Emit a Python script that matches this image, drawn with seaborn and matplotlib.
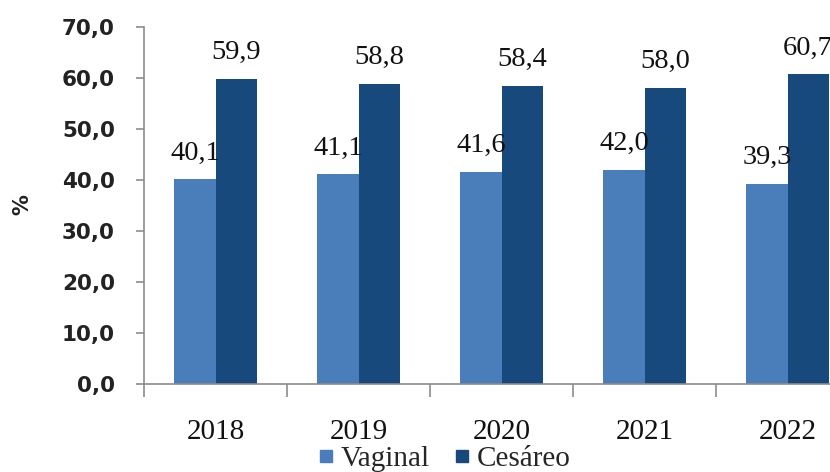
import matplotlib
matplotlib.use("Agg")
import matplotlib.pyplot as plt
from matplotlib.lines import Line2D
from matplotlib.ticker import FixedLocator
import seaborn as sns
import pandas as pd

# Partos por tipo (%), 2018-2022
years = ["2018", "2019", "2020", "2021", "2022"]
vaginal = [40.1, 41.1, 41.6, 42.0, 39.3]
cesareo = [59.9, 58.8, 58.4, 58.0, 60.7]
series = ["Vaginal", "Cesáreo"]
colors = ["#4A7EBB", "#17497C"]
y_ticks = [0, 10, 20, 30, 40, 50, 60, 70]

df = pd.DataFrame({
    "Ano": years * 2,
    "Tipo": [series[0]] * len(years) + [series[1]] * len(years),
    "Pct": vaginal + cesareo,
})

sns.set_style("white")
SERIF = "Liberation Serif"
SANS = "DejaVu Sans"
GREY = "#8C8C8C"

fig = plt.figure(figsize=(8.3, 4.72), dpi=100)
ax = fig.add_axes([144 / 830, 1 - 384 / 472, 715 / 830, 357 / 472])

sns.barplot(data=df, x="Ano", y="Pct", hue="Tipo", palette=colors,
            width=0.574, gap=0, saturation=1, errorbar=None,
            legend=False, linewidth=0, edgecolor="none", ax=ax)

def fmt(v):
    return f"{v:.1f}".replace(".", ",")

for cont, vals in zip(ax.containers, [vaginal, cesareo]):
    ax.bar_label(cont, labels=[fmt(v) for v in vals], padding=10,
                 fontsize=20.5, family=SERIF, color="#111111")

ax.set_xlim(-0.5, 4.5)
ax.set_ylim(0, 70)
ax.set_xlabel("")
ax.set_ylabel("")

ax.yaxis.set_major_locator(FixedLocator(y_ticks))
ax.set_yticklabels([fmt(t) for t in y_ticks], family=SANS, fontweight="bold",
                   fontsize=15.5, color="#222222")
ax.tick_params(axis="y", which="major", left=True, length=6, width=1.2,
               color=GREY, pad=15, direction="out")

ax.set_xticks(range(len(years)))
ax.set_xticklabels(years, family=SERIF, fontsize=21, color="#111111")
ax.xaxis.set_minor_locator(FixedLocator([i - 0.5 for i in range(len(years) + 1)]))
ax.tick_params(axis="x", which="major", bottom=True, length=0, pad=25)
ax.tick_params(axis="x", which="minor", bottom=True, length=9, width=1.2,
               color=GREY, direction="out")

for side in ["top", "right"]:
    ax.spines[side].set_visible(False)
for side in ["left", "bottom"]:
    ax.spines[side].set_color(GREY)
    ax.spines[side].set_linewidth(1.2)

fig.text(22 / 830, 1 - 205 / 472, "%", rotation=90, ha="center", va="center",
         family=SANS, fontweight="bold", fontsize=15, color="#222222")

handles = [Line2D([], [], marker="s", linestyle="", markersize=9,
                  markerfacecolor=c, markeredgecolor=c) for c in colors]
fig.legend(handles, series, loc="center", bbox_to_anchor=(444 / 830, 1 - 459 / 472),
           ncol=2, frameon=False, prop={"family": SERIF, "size": 21},
           handletextpad=0.2, columnspacing=0.8, handlelength=0.6,
           borderpad=0, borderaxespad=0)

fig.savefig("out.png", dpi=100)
